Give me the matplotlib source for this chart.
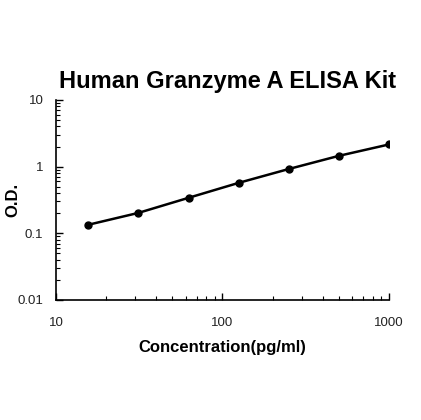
import numpy as np
import matplotlib.pyplot as plt
from matplotlib.ticker import LogLocator, FixedLocator, FixedFormatter, NullFormatter

plt.rcParams['font.family'] = ['Liberation Sans', 'DejaVu Sans']

# standard curve
conc = [15.625, 31.25, 62.5, 125, 250, 500, 1000]
od = [0.134, 0.202, 0.340, 0.570, 0.92, 1.45, 2.15]

fig = plt.figure(figsize=(4.21, 4.20), dpi=100)
ax = fig.add_axes([0.133, 0.286, 0.791, 0.476])

ax.plot(conc, od, '-', color='black', lw=1.8, marker='o', markersize=5)

ax.set_xscale('log')
ax.set_yscale('log')
ax.set_xlim(10, 1000)
ax.set_ylim(0.01, 10)

ax.xaxis.set_major_locator(FixedLocator([10, 100, 1000]))
ax.xaxis.set_major_formatter(FixedFormatter(['10', '100', '1000']))
ax.yaxis.set_major_locator(FixedLocator([0.01, 0.1, 1, 10]))
ax.yaxis.set_major_formatter(FixedFormatter(['0.01', '0.1', '1', '10']))
ax.xaxis.set_minor_locator(LogLocator(base=10, subs=np.arange(2, 10)))
ax.yaxis.set_minor_locator(LogLocator(base=10, subs=np.arange(2, 10)))
ax.xaxis.set_minor_formatter(NullFormatter())
ax.yaxis.set_minor_formatter(NullFormatter())

for s in ['top', 'right']:
    ax.spines[s].set_visible(False)
for s in ['left', 'bottom']:
    ax.spines[s].set_linewidth(1.2)

ax.tick_params(which='major', direction='in', length=5, width=1, labelsize=9.5,
               labelcolor='#222222')
ax.tick_params(which='minor', direction='in', length=3, width=0.8)
ax.tick_params(axis='x', which='major', pad=12)
ax.tick_params(axis='y', which='major', pad=9)

fig.text(0.54, 0.805, 'Human Granzyme A ELISA Kit', ha='center', va='center',
         fontsize=17, fontweight='bold')
ax.set_xlabel('Concentration(pg/ml)', fontsize=12, fontweight='bold', labelpad=8)
fig.text(0.03, 0.524, 'O.D.', rotation=90, ha='center', va='center',
         fontsize=12, fontweight='bold')

fig.savefig('out.png', dpi=100)
